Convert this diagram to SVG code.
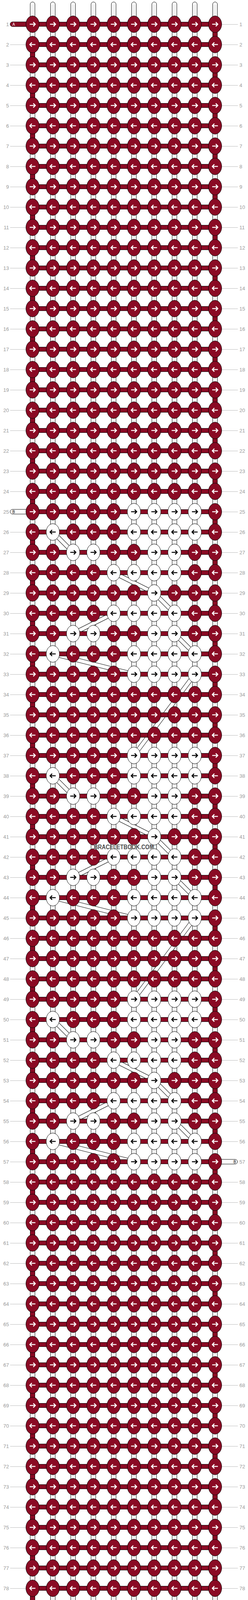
<svg xmlns="http://www.w3.org/2000/svg" xmlns:xlink="http://www.w3.org/1999/xlink" width="636" height="4284" viewBox="0 0 636 4284">
<defs>
<style>
.kr{fill:#8a0a24;stroke:#000;stroke-width:1}
.kw{fill:#fff;stroke:#000;stroke-width:1}
.aw{fill:none;stroke:#fff;stroke-width:2.6}
.ab{fill:none;stroke:#000;stroke-width:2.6}
.ln text,.rn text{font-family:"Liberation Sans",Arial,sans-serif;font-size:13px;fill:#9a9a9a}
.ln text{text-anchor:end}
.vs{fill:#fff;stroke:#000;stroke-width:1}
.lab{font-family:"Liberation Sans",Arial,sans-serif;font-size:10px;text-anchor:middle}
</style>
<g id="a"><ellipse rx="17" ry="21.3" class="kr"/><path d="M-7.3 0H6M1.8-5.3L7 0L1.8 5.3" class="aw"/></g>
<g id="b"><ellipse rx="17" ry="21.3" class="kr"/><path d="M7.3 0H-6M-1.8-5.3L-7 0L-1.8 5.3" class="aw"/></g>
<g id="c"><ellipse rx="17" ry="21.3" class="kw"/><path d="M-7.3 0H6M1.8-5.3L7 0L1.8 5.3" class="ab"/></g>
<g id="d"><ellipse rx="17" ry="21.3" class="kw"/><path d="M7.3 0H-6M-1.8-5.3L-7 0L-1.8 5.3" class="ab"/></g>
<pattern id="gl" width="1000" height="52" patternUnits="userSpaceOnUse"><rect y="10" width="1000" height="1" fill="#bbb"/></pattern>
<pattern id="p10" width="1000" height="104" patternUnits="userSpaceOnUse"><rect width="1000" height="52" fill="#8a0a24"/></pattern>
<pattern id="p1" width="1000" height="104" patternUnits="userSpaceOnUse"><rect y="52" width="1000" height="52" fill="#8a0a24"/></pattern>
<pattern id="hb" width="1000" height="52" y="-6" patternUnits="userSpaceOnUse"><rect y="0.5" width="1000" height="11" fill="#8a0a24" stroke="#000"/></pattern>
<path id="bp" d="M52 1300L104 1352M208 1404L312 1456L364 1508M208 1508L104 1560M364 1560L416 1612M52 1612L260 1664M416 1664L260 1872M52 1924L104 1976M208 2028L312 2080L364 2132M208 2132L104 2184M364 2184L416 2236M52 2236L260 2288M416 2288L260 2496M52 2548L104 2600M208 2652L312 2704L364 2756M208 2756L104 2808M364 2808L416 2860M52 2860L260 2912"/>
</defs>
<rect width="636" height="4284" fill="#fff"/>
<g id="guides">
<rect x="26" y="56" width="60" height="4172" fill="url(#gl)"/>
<rect x="550" y="56" width="60" height="4172" fill="url(#gl)"/>
</g>
<g class="ln">
<text x="23" y="66.5">1</text><text x="23" y="118.5">2</text><text x="23" y="170.5">3</text><text x="23" y="222.5">4</text><text x="23" y="274.5">5</text><text x="23" y="326.5">6</text><text x="23" y="378.5">7</text><text x="23" y="430.5">8</text><text x="23" y="482.5">9</text><text x="23" y="534.5">10</text><text x="23" y="586.5">11</text><text x="23" y="638.5">12</text><text x="23" y="690.5">13</text><text x="23" y="742.5">14</text><text x="23" y="794.5">15</text><text x="23" y="846.5">16</text><text x="23" y="898.5">17</text><text x="23" y="950.5">18</text><text x="23" y="1002.5">19</text><text x="23" y="1054.5">20</text><text x="23" y="1106.5">21</text><text x="23" y="1158.5">22</text><text x="23" y="1210.5">23</text><text x="23" y="1262.5">24</text><text x="23" y="1314.5">25</text><text x="23" y="1366.5">26</text><text x="23" y="1418.5">27</text><text x="23" y="1470.5">28</text><text x="23" y="1522.5">29</text><text x="23" y="1574.5">30</text><text x="23" y="1626.5">31</text><text x="23" y="1678.5">32</text><text x="23" y="1730.5">33</text><text x="23" y="1782.5">34</text><text x="23" y="1834.5">35</text><text x="23" y="1886.5">36</text><text x="23" y="1938.5">37</text><text x="23" y="1990.5">38</text><text x="23" y="2042.5">39</text><text x="23" y="2094.5">40</text><text x="23" y="2146.5">41</text><text x="23" y="2198.5">42</text><text x="23" y="2250.5">43</text><text x="23" y="2302.5">44</text><text x="23" y="2354.5">45</text><text x="23" y="2406.5">46</text><text x="23" y="2458.5">47</text><text x="23" y="2510.5">48</text><text x="23" y="2562.5">49</text><text x="23" y="2614.5">50</text><text x="23" y="2666.5">51</text><text x="23" y="2718.5">52</text><text x="23" y="2770.5">53</text><text x="23" y="2822.5">54</text><text x="23" y="2874.5">55</text><text x="23" y="2926.5">56</text><text x="23" y="2978.5">57</text><text x="23" y="3030.5">58</text><text x="23" y="3082.5">59</text><text x="23" y="3134.5">60</text><text x="23" y="3186.5">61</text><text x="23" y="3238.5">62</text><text x="23" y="3290.5">63</text><text x="23" y="3342.5">64</text><text x="23" y="3394.5">65</text><text x="23" y="3446.5">66</text><text x="23" y="3498.5">67</text><text x="23" y="3550.5">68</text><text x="23" y="3602.5">69</text><text x="23" y="3654.5">70</text><text x="23" y="3706.5">71</text><text x="23" y="3758.5">72</text><text x="23" y="3810.5">73</text><text x="23" y="3862.5">74</text><text x="23" y="3914.5">75</text><text x="23" y="3966.5">76</text><text x="23" y="4018.5">77</text><text x="23" y="4070.5">78</text><text x="23" y="4122.5">79</text><text x="23" y="4174.5">80</text><text x="23" y="4226.5">81</text>
</g>
<g class="rn">
<text x="614" y="66.5">1</text><text x="614" y="118.5">2</text><text x="614" y="170.5">3</text><text x="614" y="222.5">4</text><text x="614" y="274.5">5</text><text x="614" y="326.5">6</text><text x="614" y="378.5">7</text><text x="614" y="430.5">8</text><text x="614" y="482.5">9</text><text x="614" y="534.5">10</text><text x="614" y="586.5">11</text><text x="614" y="638.5">12</text><text x="614" y="690.5">13</text><text x="614" y="742.5">14</text><text x="614" y="794.5">15</text><text x="614" y="846.5">16</text><text x="614" y="898.5">17</text><text x="614" y="950.5">18</text><text x="614" y="1002.5">19</text><text x="614" y="1054.5">20</text><text x="614" y="1106.5">21</text><text x="614" y="1158.5">22</text><text x="614" y="1210.5">23</text><text x="614" y="1262.5">24</text><text x="614" y="1314.5">25</text><text x="614" y="1366.5">26</text><text x="614" y="1418.5">27</text><text x="614" y="1470.5">28</text><text x="614" y="1522.5">29</text><text x="614" y="1574.5">30</text><text x="614" y="1626.5">31</text><text x="614" y="1678.5">32</text><text x="614" y="1730.5">33</text><text x="614" y="1782.5">34</text><text x="614" y="1834.5">35</text><text x="614" y="1886.5">36</text><text x="614" y="1938.5">37</text><text x="614" y="1990.5">38</text><text x="614" y="2042.5">39</text><text x="614" y="2094.5">40</text><text x="614" y="2146.5">41</text><text x="614" y="2198.5">42</text><text x="614" y="2250.5">43</text><text x="614" y="2302.5">44</text><text x="614" y="2354.5">45</text><text x="614" y="2406.5">46</text><text x="614" y="2458.5">47</text><text x="614" y="2510.5">48</text><text x="614" y="2562.5">49</text><text x="614" y="2614.5">50</text><text x="614" y="2666.5">51</text><text x="614" y="2718.5">52</text><text x="614" y="2770.5">53</text><text x="614" y="2822.5">54</text><text x="614" y="2874.5">55</text><text x="614" y="2926.5">56</text><text x="614" y="2978.5">57</text><text x="614" y="3030.5">58</text><text x="614" y="3082.5">59</text><text x="614" y="3134.5">60</text><text x="614" y="3186.5">61</text><text x="614" y="3238.5">62</text><text x="614" y="3290.5">63</text><text x="614" y="3342.5">64</text><text x="614" y="3394.5">65</text><text x="614" y="3446.5">66</text><text x="614" y="3498.5">67</text><text x="614" y="3550.5">68</text><text x="614" y="3602.5">69</text><text x="614" y="3654.5">70</text><text x="614" y="3706.5">71</text><text x="614" y="3758.5">72</text><text x="614" y="3810.5">73</text><text x="614" y="3862.5">74</text><text x="614" y="3914.5">75</text><text x="614" y="3966.5">76</text><text x="614" y="4018.5">77</text><text x="614" y="4070.5">78</text><text x="614" y="4122.5">79</text><text x="614" y="4174.5">80</text><text x="614" y="4226.5">81</text>
</g>
<g id="ends">
<rect x="26" y="56" width="64" height="12" rx="6" fill="#8a0a24" stroke="#000"/>
<text x="35" y="66" class="lab" fill="#fff">A</text>
<rect x="26" y="1304" width="64" height="12" rx="6" fill="#fff" stroke="#000"/>
<text x="35" y="1314" class="lab" fill="#000">B</text>
<rect x="545" y="2968" width="64" height="12" rx="6" fill="#fff" stroke="#000"/>
<text x="602" y="2978" class="lab" fill="#000">B</text>
<rect x="545" y="4216" width="64" height="12" rx="6" fill="#8a0a24" stroke="#000"/>
<text x="602" y="4226" class="lab" fill="#fff">A</text>
</g>
<g id="grid" transform="translate(83.5,62)">
<g id="connectors">
<g id="strands">
<rect x="-6" y="-57" width="12" height="4274" rx="6" class="vs"/><rect x="46" y="-57" width="12" height="4274" rx="6" class="vs"/><rect x="98" y="-57" width="12" height="4274" rx="6" class="vs"/><rect x="150" y="-57" width="12" height="4274" rx="6" class="vs"/><rect x="202" y="-57" width="12" height="4274" rx="6" class="vs"/><rect x="254" y="-57" width="12" height="4274" rx="6" class="vs"/><rect x="306" y="-57" width="12" height="4274" rx="6" class="vs"/><rect x="358" y="-57" width="12" height="4274" rx="6" class="vs"/><rect x="410" y="-57" width="12" height="4274" rx="6" class="vs"/><rect x="462" y="-57" width="12" height="4274" rx="6" class="vs"/>
<path d="M-2-50V4210M2-50V4210M50-50V4210M54-50V4210M102-50V4210M106-50V4210M154-50V4210M158-50V4210M206-50V4210M210-50V4210M258-50V4210M262-50V4210M310-50V4210M314-50V4210M362-50V4210M366-50V4210M414-50V4210M418-50V4210M466-50V4210M470-50V4210" stroke="#c8c8c8" stroke-width="1" fill="none"/>
<rect x="462" y="0" width="12" height="4160" fill="url(#p10)" stroke="#000"/>
<rect x="-6" y="0" width="12" height="4160" fill="url(#p1)" stroke="#000"/>
</g>
<g id="bthread" fill="none" stroke-linejoin="round">
<use href="#bp" stroke="#000" stroke-width="11"/>
<use href="#bp" stroke="#fff" stroke-width="9"/>
</g>
<rect id="bars" x="0" y="-6" width="468" height="4172" fill="url(#hb)"/>
</g>
<g id="knots">
<g id="r1"><g id="n1-1"><use href="#a"/></g><g id="n1-2"><use href="#a" x="52"/></g><g id="n1-3"><use href="#a" x="104"/></g><g id="n1-4"><use href="#a" x="156"/></g><g id="n1-5"><use href="#a" x="208"/></g><g id="n1-6"><use href="#a" x="260"/></g><g id="n1-7"><use href="#a" x="312"/></g><g id="n1-8"><use href="#a" x="364"/></g><g id="n1-9"><use href="#a" x="416"/></g><g id="n1-10"><use href="#a" x="468"/></g></g>
<g id="r2" transform="translate(0,52)"><g id="n2-1"><use href="#b"/></g><g id="n2-2"><use href="#b" x="52"/></g><g id="n2-3"><use href="#b" x="104"/></g><g id="n2-4"><use href="#b" x="156"/></g><g id="n2-5"><use href="#b" x="208"/></g><g id="n2-6"><use href="#b" x="260"/></g><g id="n2-7"><use href="#b" x="312"/></g><g id="n2-8"><use href="#b" x="364"/></g><g id="n2-9"><use href="#b" x="416"/></g><g id="n2-10"><use href="#b" x="468"/></g></g>
<g id="r3" transform="translate(0,104)"><g id="n3-1"><use href="#a"/></g><g id="n3-2"><use href="#a" x="52"/></g><g id="n3-3"><use href="#a" x="104"/></g><g id="n3-4"><use href="#a" x="156"/></g><g id="n3-5"><use href="#a" x="208"/></g><g id="n3-6"><use href="#a" x="260"/></g><g id="n3-7"><use href="#a" x="312"/></g><g id="n3-8"><use href="#a" x="364"/></g><g id="n3-9"><use href="#a" x="416"/></g><g id="n3-10"><use href="#a" x="468"/></g></g>
<g id="r4" transform="translate(0,156)"><g id="n4-1"><use href="#b"/></g><g id="n4-2"><use href="#b" x="52"/></g><g id="n4-3"><use href="#b" x="104"/></g><g id="n4-4"><use href="#b" x="156"/></g><g id="n4-5"><use href="#b" x="208"/></g><g id="n4-6"><use href="#b" x="260"/></g><g id="n4-7"><use href="#b" x="312"/></g><g id="n4-8"><use href="#b" x="364"/></g><g id="n4-9"><use href="#b" x="416"/></g><g id="n4-10"><use href="#b" x="468"/></g></g>
<g id="r5" transform="translate(0,208)"><g id="n5-1"><use href="#a"/></g><g id="n5-2"><use href="#a" x="52"/></g><g id="n5-3"><use href="#a" x="104"/></g><g id="n5-4"><use href="#a" x="156"/></g><g id="n5-5"><use href="#a" x="208"/></g><g id="n5-6"><use href="#a" x="260"/></g><g id="n5-7"><use href="#a" x="312"/></g><g id="n5-8"><use href="#a" x="364"/></g><g id="n5-9"><use href="#a" x="416"/></g><g id="n5-10"><use href="#a" x="468"/></g></g>
<g id="r6" transform="translate(0,260)"><g id="n6-1"><use href="#b"/></g><g id="n6-2"><use href="#b" x="52"/></g><g id="n6-3"><use href="#b" x="104"/></g><g id="n6-4"><use href="#b" x="156"/></g><g id="n6-5"><use href="#b" x="208"/></g><g id="n6-6"><use href="#b" x="260"/></g><g id="n6-7"><use href="#b" x="312"/></g><g id="n6-8"><use href="#b" x="364"/></g><g id="n6-9"><use href="#b" x="416"/></g><g id="n6-10"><use href="#b" x="468"/></g></g>
<g id="r7" transform="translate(0,312)"><g id="n7-1"><use href="#a"/></g><g id="n7-2"><use href="#a" x="52"/></g><g id="n7-3"><use href="#a" x="104"/></g><g id="n7-4"><use href="#a" x="156"/></g><g id="n7-5"><use href="#a" x="208"/></g><g id="n7-6"><use href="#a" x="260"/></g><g id="n7-7"><use href="#a" x="312"/></g><g id="n7-8"><use href="#a" x="364"/></g><g id="n7-9"><use href="#a" x="416"/></g><g id="n7-10"><use href="#a" x="468"/></g></g>
<g id="r8" transform="translate(0,364)"><g id="n8-1"><use href="#b"/></g><g id="n8-2"><use href="#b" x="52"/></g><g id="n8-3"><use href="#b" x="104"/></g><g id="n8-4"><use href="#b" x="156"/></g><g id="n8-5"><use href="#b" x="208"/></g><g id="n8-6"><use href="#b" x="260"/></g><g id="n8-7"><use href="#b" x="312"/></g><g id="n8-8"><use href="#b" x="364"/></g><g id="n8-9"><use href="#b" x="416"/></g><g id="n8-10"><use href="#b" x="468"/></g></g>
<g id="r9" transform="translate(0,416)"><g id="n9-1"><use href="#a"/></g><g id="n9-2"><use href="#a" x="52"/></g><g id="n9-3"><use href="#a" x="104"/></g><g id="n9-4"><use href="#a" x="156"/></g><g id="n9-5"><use href="#a" x="208"/></g><g id="n9-6"><use href="#a" x="260"/></g><g id="n9-7"><use href="#a" x="312"/></g><g id="n9-8"><use href="#a" x="364"/></g><g id="n9-9"><use href="#a" x="416"/></g><g id="n9-10"><use href="#a" x="468"/></g></g>
<g id="r10" transform="translate(0,468)"><g id="n10-1"><use href="#b"/></g><g id="n10-2"><use href="#b" x="52"/></g><g id="n10-3"><use href="#b" x="104"/></g><g id="n10-4"><use href="#b" x="156"/></g><g id="n10-5"><use href="#b" x="208"/></g><g id="n10-6"><use href="#b" x="260"/></g><g id="n10-7"><use href="#b" x="312"/></g><g id="n10-8"><use href="#b" x="364"/></g><g id="n10-9"><use href="#b" x="416"/></g><g id="n10-10"><use href="#b" x="468"/></g></g>
<g id="r11" transform="translate(0,520)"><g id="n11-1"><use href="#a"/></g><g id="n11-2"><use href="#a" x="52"/></g><g id="n11-3"><use href="#a" x="104"/></g><g id="n11-4"><use href="#a" x="156"/></g><g id="n11-5"><use href="#a" x="208"/></g><g id="n11-6"><use href="#a" x="260"/></g><g id="n11-7"><use href="#a" x="312"/></g><g id="n11-8"><use href="#a" x="364"/></g><g id="n11-9"><use href="#a" x="416"/></g><g id="n11-10"><use href="#a" x="468"/></g></g>
<g id="r12" transform="translate(0,572)"><g id="n12-1"><use href="#b"/></g><g id="n12-2"><use href="#b" x="52"/></g><g id="n12-3"><use href="#b" x="104"/></g><g id="n12-4"><use href="#b" x="156"/></g><g id="n12-5"><use href="#b" x="208"/></g><g id="n12-6"><use href="#b" x="260"/></g><g id="n12-7"><use href="#b" x="312"/></g><g id="n12-8"><use href="#b" x="364"/></g><g id="n12-9"><use href="#b" x="416"/></g><g id="n12-10"><use href="#b" x="468"/></g></g>
<g id="r13" transform="translate(0,624)"><g id="n13-1"><use href="#a"/></g><g id="n13-2"><use href="#a" x="52"/></g><g id="n13-3"><use href="#a" x="104"/></g><g id="n13-4"><use href="#a" x="156"/></g><g id="n13-5"><use href="#a" x="208"/></g><g id="n13-6"><use href="#a" x="260"/></g><g id="n13-7"><use href="#a" x="312"/></g><g id="n13-8"><use href="#a" x="364"/></g><g id="n13-9"><use href="#a" x="416"/></g><g id="n13-10"><use href="#a" x="468"/></g></g>
<g id="r14" transform="translate(0,676)"><g id="n14-1"><use href="#b"/></g><g id="n14-2"><use href="#b" x="52"/></g><g id="n14-3"><use href="#b" x="104"/></g><g id="n14-4"><use href="#b" x="156"/></g><g id="n14-5"><use href="#b" x="208"/></g><g id="n14-6"><use href="#b" x="260"/></g><g id="n14-7"><use href="#b" x="312"/></g><g id="n14-8"><use href="#b" x="364"/></g><g id="n14-9"><use href="#b" x="416"/></g><g id="n14-10"><use href="#b" x="468"/></g></g>
<g id="r15" transform="translate(0,728)"><g id="n15-1"><use href="#a"/></g><g id="n15-2"><use href="#a" x="52"/></g><g id="n15-3"><use href="#a" x="104"/></g><g id="n15-4"><use href="#a" x="156"/></g><g id="n15-5"><use href="#a" x="208"/></g><g id="n15-6"><use href="#a" x="260"/></g><g id="n15-7"><use href="#a" x="312"/></g><g id="n15-8"><use href="#a" x="364"/></g><g id="n15-9"><use href="#a" x="416"/></g><g id="n15-10"><use href="#a" x="468"/></g></g>
<g id="r16" transform="translate(0,780)"><g id="n16-1"><use href="#b"/></g><g id="n16-2"><use href="#b" x="52"/></g><g id="n16-3"><use href="#b" x="104"/></g><g id="n16-4"><use href="#b" x="156"/></g><g id="n16-5"><use href="#b" x="208"/></g><g id="n16-6"><use href="#b" x="260"/></g><g id="n16-7"><use href="#b" x="312"/></g><g id="n16-8"><use href="#b" x="364"/></g><g id="n16-9"><use href="#b" x="416"/></g><g id="n16-10"><use href="#b" x="468"/></g></g>
<g id="r17" transform="translate(0,832)"><g id="n17-1"><use href="#a"/></g><g id="n17-2"><use href="#a" x="52"/></g><g id="n17-3"><use href="#a" x="104"/></g><g id="n17-4"><use href="#a" x="156"/></g><g id="n17-5"><use href="#a" x="208"/></g><g id="n17-6"><use href="#a" x="260"/></g><g id="n17-7"><use href="#a" x="312"/></g><g id="n17-8"><use href="#a" x="364"/></g><g id="n17-9"><use href="#a" x="416"/></g><g id="n17-10"><use href="#a" x="468"/></g></g>
<g id="r18" transform="translate(0,884)"><g id="n18-1"><use href="#b"/></g><g id="n18-2"><use href="#b" x="52"/></g><g id="n18-3"><use href="#b" x="104"/></g><g id="n18-4"><use href="#b" x="156"/></g><g id="n18-5"><use href="#b" x="208"/></g><g id="n18-6"><use href="#b" x="260"/></g><g id="n18-7"><use href="#b" x="312"/></g><g id="n18-8"><use href="#b" x="364"/></g><g id="n18-9"><use href="#b" x="416"/></g><g id="n18-10"><use href="#b" x="468"/></g></g>
<g id="r19" transform="translate(0,936)"><g id="n19-1"><use href="#a"/></g><g id="n19-2"><use href="#a" x="52"/></g><g id="n19-3"><use href="#a" x="104"/></g><g id="n19-4"><use href="#a" x="156"/></g><g id="n19-5"><use href="#a" x="208"/></g><g id="n19-6"><use href="#a" x="260"/></g><g id="n19-7"><use href="#a" x="312"/></g><g id="n19-8"><use href="#a" x="364"/></g><g id="n19-9"><use href="#a" x="416"/></g><g id="n19-10"><use href="#a" x="468"/></g></g>
<g id="r20" transform="translate(0,988)"><g id="n20-1"><use href="#b"/></g><g id="n20-2"><use href="#b" x="52"/></g><g id="n20-3"><use href="#b" x="104"/></g><g id="n20-4"><use href="#b" x="156"/></g><g id="n20-5"><use href="#b" x="208"/></g><g id="n20-6"><use href="#b" x="260"/></g><g id="n20-7"><use href="#b" x="312"/></g><g id="n20-8"><use href="#b" x="364"/></g><g id="n20-9"><use href="#b" x="416"/></g><g id="n20-10"><use href="#b" x="468"/></g></g>
<g id="r21" transform="translate(0,1040)"><g id="n21-1"><use href="#a"/></g><g id="n21-2"><use href="#a" x="52"/></g><g id="n21-3"><use href="#a" x="104"/></g><g id="n21-4"><use href="#a" x="156"/></g><g id="n21-5"><use href="#a" x="208"/></g><g id="n21-6"><use href="#a" x="260"/></g><g id="n21-7"><use href="#a" x="312"/></g><g id="n21-8"><use href="#a" x="364"/></g><g id="n21-9"><use href="#a" x="416"/></g><g id="n21-10"><use href="#a" x="468"/></g></g>
<g id="r22" transform="translate(0,1092)"><g id="n22-1"><use href="#b"/></g><g id="n22-2"><use href="#b" x="52"/></g><g id="n22-3"><use href="#b" x="104"/></g><g id="n22-4"><use href="#b" x="156"/></g><g id="n22-5"><use href="#b" x="208"/></g><g id="n22-6"><use href="#b" x="260"/></g><g id="n22-7"><use href="#b" x="312"/></g><g id="n22-8"><use href="#b" x="364"/></g><g id="n22-9"><use href="#b" x="416"/></g><g id="n22-10"><use href="#b" x="468"/></g></g>
<g id="r23" transform="translate(0,1144)"><g id="n23-1"><use href="#a"/></g><g id="n23-2"><use href="#a" x="52"/></g><g id="n23-3"><use href="#a" x="104"/></g><g id="n23-4"><use href="#a" x="156"/></g><g id="n23-5"><use href="#a" x="208"/></g><g id="n23-6"><use href="#a" x="260"/></g><g id="n23-7"><use href="#a" x="312"/></g><g id="n23-8"><use href="#a" x="364"/></g><g id="n23-9"><use href="#a" x="416"/></g><g id="n23-10"><use href="#a" x="468"/></g></g>
<g id="r24" transform="translate(0,1196)"><g id="n24-1"><use href="#b"/></g><g id="n24-2"><use href="#b" x="52"/></g><g id="n24-3"><use href="#b" x="104"/></g><g id="n24-4"><use href="#b" x="156"/></g><g id="n24-5"><use href="#b" x="208"/></g><g id="n24-6"><use href="#b" x="260"/></g><g id="n24-7"><use href="#b" x="312"/></g><g id="n24-8"><use href="#b" x="364"/></g><g id="n24-9"><use href="#b" x="416"/></g><g id="n24-10"><use href="#b" x="468"/></g></g>
<g id="r25" transform="translate(0,1248)"><g id="n25-1"><use href="#a"/></g><g id="n25-2"><use href="#a" x="52"/></g><g id="n25-3"><use href="#a" x="104"/></g><g id="n25-4"><use href="#a" x="156"/></g><g id="n25-5"><use href="#a" x="208"/></g><g id="n25-6"><use href="#c" x="260"/></g><g id="n25-7"><use href="#c" x="312"/></g><g id="n25-8"><use href="#c" x="364"/></g><g id="n25-9"><use href="#c" x="416"/></g><g id="n25-10"><use href="#a" x="468"/></g></g>
<g id="r26" transform="translate(0,1300)"><g id="n26-1"><use href="#b"/></g><g id="n26-2"><use href="#d" x="52"/></g><g id="n26-3"><use href="#b" x="104"/></g><g id="n26-4"><use href="#b" x="156"/></g><g id="n26-5"><use href="#b" x="208"/></g><g id="n26-6"><use href="#d" x="260"/></g><g id="n26-7"><use href="#d" x="312"/></g><g id="n26-8"><use href="#d" x="364"/></g><g id="n26-9"><use href="#d" x="416"/></g><g id="n26-10"><use href="#b" x="468"/></g></g>
<g id="r27" transform="translate(0,1352)"><g id="n27-1"><use href="#a"/></g><g id="n27-2"><use href="#a" x="52"/></g><g id="n27-3"><use href="#c" x="104"/></g><g id="n27-4"><use href="#c" x="156"/></g><g id="n27-5"><use href="#a" x="208"/></g><g id="n27-6"><use href="#a" x="260"/></g><g id="n27-7"><use href="#c" x="312"/></g><g id="n27-8"><use href="#c" x="364"/></g><g id="n27-9"><use href="#a" x="416"/></g><g id="n27-10"><use href="#a" x="468"/></g></g>
<g id="r28" transform="translate(0,1404)"><g id="n28-1"><use href="#b"/></g><g id="n28-2"><use href="#b" x="52"/></g><g id="n28-3"><use href="#b" x="104"/></g><g id="n28-4"><use href="#b" x="156"/></g><g id="n28-5"><use href="#d" x="208"/></g><g id="n28-6"><use href="#d" x="260"/></g><g id="n28-7"><use href="#d" x="312"/></g><g id="n28-8"><use href="#d" x="364"/></g><g id="n28-9"><use href="#b" x="416"/></g><g id="n28-10"><use href="#b" x="468"/></g></g>
<g id="r29" transform="translate(0,1456)"><g id="n29-1"><use href="#a"/></g><g id="n29-2"><use href="#a" x="52"/></g><g id="n29-3"><use href="#a" x="104"/></g><g id="n29-4"><use href="#a" x="156"/></g><g id="n29-5"><use href="#a" x="208"/></g><g id="n29-6"><use href="#a" x="260"/></g><g id="n29-7"><use href="#c" x="312"/></g><g id="n29-8"><use href="#a" x="364"/></g><g id="n29-9"><use href="#a" x="416"/></g><g id="n29-10"><use href="#a" x="468"/></g></g>
<g id="r30" transform="translate(0,1508)"><g id="n30-1"><use href="#b"/></g><g id="n30-2"><use href="#b" x="52"/></g><g id="n30-3"><use href="#b" x="104"/></g><g id="n30-4"><use href="#b" x="156"/></g><g id="n30-5"><use href="#d" x="208"/></g><g id="n30-6"><use href="#d" x="260"/></g><g id="n30-7"><use href="#d" x="312"/></g><g id="n30-8"><use href="#d" x="364"/></g><g id="n30-9"><use href="#b" x="416"/></g><g id="n30-10"><use href="#b" x="468"/></g></g>
<g id="r31" transform="translate(0,1560)"><g id="n31-1"><use href="#a"/></g><g id="n31-2"><use href="#a" x="52"/></g><g id="n31-3"><use href="#c" x="104"/></g><g id="n31-4"><use href="#c" x="156"/></g><g id="n31-5"><use href="#a" x="208"/></g><g id="n31-6"><use href="#a" x="260"/></g><g id="n31-7"><use href="#c" x="312"/></g><g id="n31-8"><use href="#c" x="364"/></g><g id="n31-9"><use href="#a" x="416"/></g><g id="n31-10"><use href="#a" x="468"/></g></g>
<g id="r32" transform="translate(0,1612)"><g id="n32-1"><use href="#b"/></g><g id="n32-2"><use href="#d" x="52"/></g><g id="n32-3"><use href="#b" x="104"/></g><g id="n32-4"><use href="#b" x="156"/></g><g id="n32-5"><use href="#b" x="208"/></g><g id="n32-6"><use href="#d" x="260"/></g><g id="n32-7"><use href="#d" x="312"/></g><g id="n32-8"><use href="#d" x="364"/></g><g id="n32-9"><use href="#d" x="416"/></g><g id="n32-10"><use href="#b" x="468"/></g></g>
<g id="r33" transform="translate(0,1664)"><g id="n33-1"><use href="#a"/></g><g id="n33-2"><use href="#a" x="52"/></g><g id="n33-3"><use href="#a" x="104"/></g><g id="n33-4"><use href="#a" x="156"/></g><g id="n33-5"><use href="#a" x="208"/></g><g id="n33-6"><use href="#c" x="260"/></g><g id="n33-7"><use href="#c" x="312"/></g><g id="n33-8"><use href="#c" x="364"/></g><g id="n33-9"><use href="#c" x="416"/></g><g id="n33-10"><use href="#a" x="468"/></g></g>
<g id="r34" transform="translate(0,1716)"><g id="n34-1"><use href="#b"/></g><g id="n34-2"><use href="#b" x="52"/></g><g id="n34-3"><use href="#b" x="104"/></g><g id="n34-4"><use href="#b" x="156"/></g><g id="n34-5"><use href="#b" x="208"/></g><g id="n34-6"><use href="#b" x="260"/></g><g id="n34-7"><use href="#b" x="312"/></g><g id="n34-8"><use href="#b" x="364"/></g><g id="n34-9"><use href="#b" x="416"/></g><g id="n34-10"><use href="#b" x="468"/></g></g>
<g id="r35" transform="translate(0,1768)"><g id="n35-1"><use href="#a"/></g><g id="n35-2"><use href="#a" x="52"/></g><g id="n35-3"><use href="#a" x="104"/></g><g id="n35-4"><use href="#a" x="156"/></g><g id="n35-5"><use href="#a" x="208"/></g><g id="n35-6"><use href="#a" x="260"/></g><g id="n35-7"><use href="#a" x="312"/></g><g id="n35-8"><use href="#a" x="364"/></g><g id="n35-9"><use href="#a" x="416"/></g><g id="n35-10"><use href="#a" x="468"/></g></g>
<g id="r36" transform="translate(0,1820)"><g id="n36-1"><use href="#b"/></g><g id="n36-2"><use href="#b" x="52"/></g><g id="n36-3"><use href="#b" x="104"/></g><g id="n36-4"><use href="#b" x="156"/></g><g id="n36-5"><use href="#b" x="208"/></g><g id="n36-6"><use href="#b" x="260"/></g><g id="n36-7"><use href="#b" x="312"/></g><g id="n36-8"><use href="#b" x="364"/></g><g id="n36-9"><use href="#b" x="416"/></g><g id="n36-10"><use href="#b" x="468"/></g></g>
<g id="r37" transform="translate(0,1872)"><g id="n37-1"><use href="#a"/></g><g id="n37-2"><use href="#a" x="52"/></g><g id="n37-3"><use href="#a" x="104"/></g><g id="n37-4"><use href="#a" x="156"/></g><g id="n37-5"><use href="#a" x="208"/></g><g id="n37-6"><use href="#c" x="260"/></g><g id="n37-7"><use href="#c" x="312"/></g><g id="n37-8"><use href="#c" x="364"/></g><g id="n37-9"><use href="#c" x="416"/></g><g id="n37-10"><use href="#a" x="468"/></g></g>
<g id="r38" transform="translate(0,1924)"><g id="n38-1"><use href="#b"/></g><g id="n38-2"><use href="#d" x="52"/></g><g id="n38-3"><use href="#b" x="104"/></g><g id="n38-4"><use href="#b" x="156"/></g><g id="n38-5"><use href="#b" x="208"/></g><g id="n38-6"><use href="#d" x="260"/></g><g id="n38-7"><use href="#d" x="312"/></g><g id="n38-8"><use href="#d" x="364"/></g><g id="n38-9"><use href="#d" x="416"/></g><g id="n38-10"><use href="#b" x="468"/></g></g>
<g id="r39" transform="translate(0,1976)"><g id="n39-1"><use href="#a"/></g><g id="n39-2"><use href="#a" x="52"/></g><g id="n39-3"><use href="#c" x="104"/></g><g id="n39-4"><use href="#c" x="156"/></g><g id="n39-5"><use href="#a" x="208"/></g><g id="n39-6"><use href="#a" x="260"/></g><g id="n39-7"><use href="#c" x="312"/></g><g id="n39-8"><use href="#c" x="364"/></g><g id="n39-9"><use href="#a" x="416"/></g><g id="n39-10"><use href="#a" x="468"/></g></g>
<g id="r40" transform="translate(0,2028)"><g id="n40-1"><use href="#b"/></g><g id="n40-2"><use href="#b" x="52"/></g><g id="n40-3"><use href="#b" x="104"/></g><g id="n40-4"><use href="#b" x="156"/></g><g id="n40-5"><use href="#d" x="208"/></g><g id="n40-6"><use href="#d" x="260"/></g><g id="n40-7"><use href="#d" x="312"/></g><g id="n40-8"><use href="#d" x="364"/></g><g id="n40-9"><use href="#b" x="416"/></g><g id="n40-10"><use href="#b" x="468"/></g></g>
<g id="r41" transform="translate(0,2080)"><g id="n41-1"><use href="#a"/></g><g id="n41-2"><use href="#a" x="52"/></g><g id="n41-3"><use href="#a" x="104"/></g><g id="n41-4"><use href="#a" x="156"/></g><g id="n41-5"><use href="#a" x="208"/></g><g id="n41-6"><use href="#a" x="260"/></g><g id="n41-7"><use href="#c" x="312"/></g><g id="n41-8"><use href="#a" x="364"/></g><g id="n41-9"><use href="#a" x="416"/></g><g id="n41-10"><use href="#a" x="468"/></g></g>
<g id="r42" transform="translate(0,2132)"><g id="n42-1"><use href="#b"/></g><g id="n42-2"><use href="#b" x="52"/></g><g id="n42-3"><use href="#b" x="104"/></g><g id="n42-4"><use href="#b" x="156"/></g><g id="n42-5"><use href="#d" x="208"/></g><g id="n42-6"><use href="#d" x="260"/></g><g id="n42-7"><use href="#d" x="312"/></g><g id="n42-8"><use href="#d" x="364"/></g><g id="n42-9"><use href="#b" x="416"/></g><g id="n42-10"><use href="#b" x="468"/></g></g>
<g id="r43" transform="translate(0,2184)"><g id="n43-1"><use href="#a"/></g><g id="n43-2"><use href="#a" x="52"/></g><g id="n43-3"><use href="#c" x="104"/></g><g id="n43-4"><use href="#c" x="156"/></g><g id="n43-5"><use href="#a" x="208"/></g><g id="n43-6"><use href="#a" x="260"/></g><g id="n43-7"><use href="#c" x="312"/></g><g id="n43-8"><use href="#c" x="364"/></g><g id="n43-9"><use href="#a" x="416"/></g><g id="n43-10"><use href="#a" x="468"/></g></g>
<g id="r44" transform="translate(0,2236)"><g id="n44-1"><use href="#b"/></g><g id="n44-2"><use href="#d" x="52"/></g><g id="n44-3"><use href="#b" x="104"/></g><g id="n44-4"><use href="#b" x="156"/></g><g id="n44-5"><use href="#b" x="208"/></g><g id="n44-6"><use href="#d" x="260"/></g><g id="n44-7"><use href="#d" x="312"/></g><g id="n44-8"><use href="#d" x="364"/></g><g id="n44-9"><use href="#d" x="416"/></g><g id="n44-10"><use href="#b" x="468"/></g></g>
<g id="r45" transform="translate(0,2288)"><g id="n45-1"><use href="#a"/></g><g id="n45-2"><use href="#a" x="52"/></g><g id="n45-3"><use href="#a" x="104"/></g><g id="n45-4"><use href="#a" x="156"/></g><g id="n45-5"><use href="#a" x="208"/></g><g id="n45-6"><use href="#c" x="260"/></g><g id="n45-7"><use href="#c" x="312"/></g><g id="n45-8"><use href="#c" x="364"/></g><g id="n45-9"><use href="#c" x="416"/></g><g id="n45-10"><use href="#a" x="468"/></g></g>
<g id="r46" transform="translate(0,2340)"><g id="n46-1"><use href="#b"/></g><g id="n46-2"><use href="#b" x="52"/></g><g id="n46-3"><use href="#b" x="104"/></g><g id="n46-4"><use href="#b" x="156"/></g><g id="n46-5"><use href="#b" x="208"/></g><g id="n46-6"><use href="#b" x="260"/></g><g id="n46-7"><use href="#b" x="312"/></g><g id="n46-8"><use href="#b" x="364"/></g><g id="n46-9"><use href="#b" x="416"/></g><g id="n46-10"><use href="#b" x="468"/></g></g>
<g id="r47" transform="translate(0,2392)"><g id="n47-1"><use href="#a"/></g><g id="n47-2"><use href="#a" x="52"/></g><g id="n47-3"><use href="#a" x="104"/></g><g id="n47-4"><use href="#a" x="156"/></g><g id="n47-5"><use href="#a" x="208"/></g><g id="n47-6"><use href="#a" x="260"/></g><g id="n47-7"><use href="#a" x="312"/></g><g id="n47-8"><use href="#a" x="364"/></g><g id="n47-9"><use href="#a" x="416"/></g><g id="n47-10"><use href="#a" x="468"/></g></g>
<g id="r48" transform="translate(0,2444)"><g id="n48-1"><use href="#b"/></g><g id="n48-2"><use href="#b" x="52"/></g><g id="n48-3"><use href="#b" x="104"/></g><g id="n48-4"><use href="#b" x="156"/></g><g id="n48-5"><use href="#b" x="208"/></g><g id="n48-6"><use href="#b" x="260"/></g><g id="n48-7"><use href="#b" x="312"/></g><g id="n48-8"><use href="#b" x="364"/></g><g id="n48-9"><use href="#b" x="416"/></g><g id="n48-10"><use href="#b" x="468"/></g></g>
<g id="r49" transform="translate(0,2496)"><g id="n49-1"><use href="#a"/></g><g id="n49-2"><use href="#a" x="52"/></g><g id="n49-3"><use href="#a" x="104"/></g><g id="n49-4"><use href="#a" x="156"/></g><g id="n49-5"><use href="#a" x="208"/></g><g id="n49-6"><use href="#c" x="260"/></g><g id="n49-7"><use href="#c" x="312"/></g><g id="n49-8"><use href="#c" x="364"/></g><g id="n49-9"><use href="#c" x="416"/></g><g id="n49-10"><use href="#a" x="468"/></g></g>
<g id="r50" transform="translate(0,2548)"><g id="n50-1"><use href="#b"/></g><g id="n50-2"><use href="#d" x="52"/></g><g id="n50-3"><use href="#b" x="104"/></g><g id="n50-4"><use href="#b" x="156"/></g><g id="n50-5"><use href="#b" x="208"/></g><g id="n50-6"><use href="#d" x="260"/></g><g id="n50-7"><use href="#d" x="312"/></g><g id="n50-8"><use href="#d" x="364"/></g><g id="n50-9"><use href="#d" x="416"/></g><g id="n50-10"><use href="#b" x="468"/></g></g>
<g id="r51" transform="translate(0,2600)"><g id="n51-1"><use href="#a"/></g><g id="n51-2"><use href="#a" x="52"/></g><g id="n51-3"><use href="#c" x="104"/></g><g id="n51-4"><use href="#c" x="156"/></g><g id="n51-5"><use href="#a" x="208"/></g><g id="n51-6"><use href="#a" x="260"/></g><g id="n51-7"><use href="#c" x="312"/></g><g id="n51-8"><use href="#c" x="364"/></g><g id="n51-9"><use href="#a" x="416"/></g><g id="n51-10"><use href="#a" x="468"/></g></g>
<g id="r52" transform="translate(0,2652)"><g id="n52-1"><use href="#b"/></g><g id="n52-2"><use href="#b" x="52"/></g><g id="n52-3"><use href="#b" x="104"/></g><g id="n52-4"><use href="#b" x="156"/></g><g id="n52-5"><use href="#d" x="208"/></g><g id="n52-6"><use href="#d" x="260"/></g><g id="n52-7"><use href="#d" x="312"/></g><g id="n52-8"><use href="#d" x="364"/></g><g id="n52-9"><use href="#b" x="416"/></g><g id="n52-10"><use href="#b" x="468"/></g></g>
<g id="r53" transform="translate(0,2704)"><g id="n53-1"><use href="#a"/></g><g id="n53-2"><use href="#a" x="52"/></g><g id="n53-3"><use href="#a" x="104"/></g><g id="n53-4"><use href="#a" x="156"/></g><g id="n53-5"><use href="#a" x="208"/></g><g id="n53-6"><use href="#a" x="260"/></g><g id="n53-7"><use href="#c" x="312"/></g><g id="n53-8"><use href="#a" x="364"/></g><g id="n53-9"><use href="#a" x="416"/></g><g id="n53-10"><use href="#a" x="468"/></g></g>
<g id="r54" transform="translate(0,2756)"><g id="n54-1"><use href="#b"/></g><g id="n54-2"><use href="#b" x="52"/></g><g id="n54-3"><use href="#b" x="104"/></g><g id="n54-4"><use href="#b" x="156"/></g><g id="n54-5"><use href="#d" x="208"/></g><g id="n54-6"><use href="#d" x="260"/></g><g id="n54-7"><use href="#d" x="312"/></g><g id="n54-8"><use href="#d" x="364"/></g><g id="n54-9"><use href="#b" x="416"/></g><g id="n54-10"><use href="#b" x="468"/></g></g>
<g id="r55" transform="translate(0,2808)"><g id="n55-1"><use href="#a"/></g><g id="n55-2"><use href="#a" x="52"/></g><g id="n55-3"><use href="#c" x="104"/></g><g id="n55-4"><use href="#c" x="156"/></g><g id="n55-5"><use href="#a" x="208"/></g><g id="n55-6"><use href="#a" x="260"/></g><g id="n55-7"><use href="#c" x="312"/></g><g id="n55-8"><use href="#c" x="364"/></g><g id="n55-9"><use href="#a" x="416"/></g><g id="n55-10"><use href="#a" x="468"/></g></g>
<g id="r56" transform="translate(0,2860)"><g id="n56-1"><use href="#b"/></g><g id="n56-2"><use href="#d" x="52"/></g><g id="n56-3"><use href="#b" x="104"/></g><g id="n56-4"><use href="#b" x="156"/></g><g id="n56-5"><use href="#b" x="208"/></g><g id="n56-6"><use href="#d" x="260"/></g><g id="n56-7"><use href="#d" x="312"/></g><g id="n56-8"><use href="#d" x="364"/></g><g id="n56-9"><use href="#d" x="416"/></g><g id="n56-10"><use href="#b" x="468"/></g></g>
<g id="r57" transform="translate(0,2912)"><g id="n57-1"><use href="#a"/></g><g id="n57-2"><use href="#a" x="52"/></g><g id="n57-3"><use href="#a" x="104"/></g><g id="n57-4"><use href="#a" x="156"/></g><g id="n57-5"><use href="#a" x="208"/></g><g id="n57-6"><use href="#c" x="260"/></g><g id="n57-7"><use href="#c" x="312"/></g><g id="n57-8"><use href="#c" x="364"/></g><g id="n57-9"><use href="#c" x="416"/></g><g id="n57-10"><use href="#a" x="468"/></g></g>
<g id="r58" transform="translate(0,2964)"><g id="n58-1"><use href="#b"/></g><g id="n58-2"><use href="#b" x="52"/></g><g id="n58-3"><use href="#b" x="104"/></g><g id="n58-4"><use href="#b" x="156"/></g><g id="n58-5"><use href="#b" x="208"/></g><g id="n58-6"><use href="#b" x="260"/></g><g id="n58-7"><use href="#b" x="312"/></g><g id="n58-8"><use href="#b" x="364"/></g><g id="n58-9"><use href="#b" x="416"/></g><g id="n58-10"><use href="#b" x="468"/></g></g>
<g id="r59" transform="translate(0,3016)"><g id="n59-1"><use href="#a"/></g><g id="n59-2"><use href="#a" x="52"/></g><g id="n59-3"><use href="#a" x="104"/></g><g id="n59-4"><use href="#a" x="156"/></g><g id="n59-5"><use href="#a" x="208"/></g><g id="n59-6"><use href="#a" x="260"/></g><g id="n59-7"><use href="#a" x="312"/></g><g id="n59-8"><use href="#a" x="364"/></g><g id="n59-9"><use href="#a" x="416"/></g><g id="n59-10"><use href="#a" x="468"/></g></g>
<g id="r60" transform="translate(0,3068)"><g id="n60-1"><use href="#b"/></g><g id="n60-2"><use href="#b" x="52"/></g><g id="n60-3"><use href="#b" x="104"/></g><g id="n60-4"><use href="#b" x="156"/></g><g id="n60-5"><use href="#b" x="208"/></g><g id="n60-6"><use href="#b" x="260"/></g><g id="n60-7"><use href="#b" x="312"/></g><g id="n60-8"><use href="#b" x="364"/></g><g id="n60-9"><use href="#b" x="416"/></g><g id="n60-10"><use href="#b" x="468"/></g></g>
<g id="r61" transform="translate(0,3120)"><g id="n61-1"><use href="#a"/></g><g id="n61-2"><use href="#a" x="52"/></g><g id="n61-3"><use href="#a" x="104"/></g><g id="n61-4"><use href="#a" x="156"/></g><g id="n61-5"><use href="#a" x="208"/></g><g id="n61-6"><use href="#a" x="260"/></g><g id="n61-7"><use href="#a" x="312"/></g><g id="n61-8"><use href="#a" x="364"/></g><g id="n61-9"><use href="#a" x="416"/></g><g id="n61-10"><use href="#a" x="468"/></g></g>
<g id="r62" transform="translate(0,3172)"><g id="n62-1"><use href="#b"/></g><g id="n62-2"><use href="#b" x="52"/></g><g id="n62-3"><use href="#b" x="104"/></g><g id="n62-4"><use href="#b" x="156"/></g><g id="n62-5"><use href="#b" x="208"/></g><g id="n62-6"><use href="#b" x="260"/></g><g id="n62-7"><use href="#b" x="312"/></g><g id="n62-8"><use href="#b" x="364"/></g><g id="n62-9"><use href="#b" x="416"/></g><g id="n62-10"><use href="#b" x="468"/></g></g>
<g id="r63" transform="translate(0,3224)"><g id="n63-1"><use href="#a"/></g><g id="n63-2"><use href="#a" x="52"/></g><g id="n63-3"><use href="#a" x="104"/></g><g id="n63-4"><use href="#a" x="156"/></g><g id="n63-5"><use href="#a" x="208"/></g><g id="n63-6"><use href="#a" x="260"/></g><g id="n63-7"><use href="#a" x="312"/></g><g id="n63-8"><use href="#a" x="364"/></g><g id="n63-9"><use href="#a" x="416"/></g><g id="n63-10"><use href="#a" x="468"/></g></g>
<g id="r64" transform="translate(0,3276)"><g id="n64-1"><use href="#b"/></g><g id="n64-2"><use href="#b" x="52"/></g><g id="n64-3"><use href="#b" x="104"/></g><g id="n64-4"><use href="#b" x="156"/></g><g id="n64-5"><use href="#b" x="208"/></g><g id="n64-6"><use href="#b" x="260"/></g><g id="n64-7"><use href="#b" x="312"/></g><g id="n64-8"><use href="#b" x="364"/></g><g id="n64-9"><use href="#b" x="416"/></g><g id="n64-10"><use href="#b" x="468"/></g></g>
<g id="r65" transform="translate(0,3328)"><g id="n65-1"><use href="#a"/></g><g id="n65-2"><use href="#a" x="52"/></g><g id="n65-3"><use href="#a" x="104"/></g><g id="n65-4"><use href="#a" x="156"/></g><g id="n65-5"><use href="#a" x="208"/></g><g id="n65-6"><use href="#a" x="260"/></g><g id="n65-7"><use href="#a" x="312"/></g><g id="n65-8"><use href="#a" x="364"/></g><g id="n65-9"><use href="#a" x="416"/></g><g id="n65-10"><use href="#a" x="468"/></g></g>
<g id="r66" transform="translate(0,3380)"><g id="n66-1"><use href="#b"/></g><g id="n66-2"><use href="#b" x="52"/></g><g id="n66-3"><use href="#b" x="104"/></g><g id="n66-4"><use href="#b" x="156"/></g><g id="n66-5"><use href="#b" x="208"/></g><g id="n66-6"><use href="#b" x="260"/></g><g id="n66-7"><use href="#b" x="312"/></g><g id="n66-8"><use href="#b" x="364"/></g><g id="n66-9"><use href="#b" x="416"/></g><g id="n66-10"><use href="#b" x="468"/></g></g>
<g id="r67" transform="translate(0,3432)"><g id="n67-1"><use href="#a"/></g><g id="n67-2"><use href="#a" x="52"/></g><g id="n67-3"><use href="#a" x="104"/></g><g id="n67-4"><use href="#a" x="156"/></g><g id="n67-5"><use href="#a" x="208"/></g><g id="n67-6"><use href="#a" x="260"/></g><g id="n67-7"><use href="#a" x="312"/></g><g id="n67-8"><use href="#a" x="364"/></g><g id="n67-9"><use href="#a" x="416"/></g><g id="n67-10"><use href="#a" x="468"/></g></g>
<g id="r68" transform="translate(0,3484)"><g id="n68-1"><use href="#b"/></g><g id="n68-2"><use href="#b" x="52"/></g><g id="n68-3"><use href="#b" x="104"/></g><g id="n68-4"><use href="#b" x="156"/></g><g id="n68-5"><use href="#b" x="208"/></g><g id="n68-6"><use href="#b" x="260"/></g><g id="n68-7"><use href="#b" x="312"/></g><g id="n68-8"><use href="#b" x="364"/></g><g id="n68-9"><use href="#b" x="416"/></g><g id="n68-10"><use href="#b" x="468"/></g></g>
<g id="r69" transform="translate(0,3536)"><g id="n69-1"><use href="#a"/></g><g id="n69-2"><use href="#a" x="52"/></g><g id="n69-3"><use href="#a" x="104"/></g><g id="n69-4"><use href="#a" x="156"/></g><g id="n69-5"><use href="#a" x="208"/></g><g id="n69-6"><use href="#a" x="260"/></g><g id="n69-7"><use href="#a" x="312"/></g><g id="n69-8"><use href="#a" x="364"/></g><g id="n69-9"><use href="#a" x="416"/></g><g id="n69-10"><use href="#a" x="468"/></g></g>
<g id="r70" transform="translate(0,3588)"><g id="n70-1"><use href="#b"/></g><g id="n70-2"><use href="#b" x="52"/></g><g id="n70-3"><use href="#b" x="104"/></g><g id="n70-4"><use href="#b" x="156"/></g><g id="n70-5"><use href="#b" x="208"/></g><g id="n70-6"><use href="#b" x="260"/></g><g id="n70-7"><use href="#b" x="312"/></g><g id="n70-8"><use href="#b" x="364"/></g><g id="n70-9"><use href="#b" x="416"/></g><g id="n70-10"><use href="#b" x="468"/></g></g>
<g id="r71" transform="translate(0,3640)"><g id="n71-1"><use href="#a"/></g><g id="n71-2"><use href="#a" x="52"/></g><g id="n71-3"><use href="#a" x="104"/></g><g id="n71-4"><use href="#a" x="156"/></g><g id="n71-5"><use href="#a" x="208"/></g><g id="n71-6"><use href="#a" x="260"/></g><g id="n71-7"><use href="#a" x="312"/></g><g id="n71-8"><use href="#a" x="364"/></g><g id="n71-9"><use href="#a" x="416"/></g><g id="n71-10"><use href="#a" x="468"/></g></g>
<g id="r72" transform="translate(0,3692)"><g id="n72-1"><use href="#b"/></g><g id="n72-2"><use href="#b" x="52"/></g><g id="n72-3"><use href="#b" x="104"/></g><g id="n72-4"><use href="#b" x="156"/></g><g id="n72-5"><use href="#b" x="208"/></g><g id="n72-6"><use href="#b" x="260"/></g><g id="n72-7"><use href="#b" x="312"/></g><g id="n72-8"><use href="#b" x="364"/></g><g id="n72-9"><use href="#b" x="416"/></g><g id="n72-10"><use href="#b" x="468"/></g></g>
<g id="r73" transform="translate(0,3744)"><g id="n73-1"><use href="#a"/></g><g id="n73-2"><use href="#a" x="52"/></g><g id="n73-3"><use href="#a" x="104"/></g><g id="n73-4"><use href="#a" x="156"/></g><g id="n73-5"><use href="#a" x="208"/></g><g id="n73-6"><use href="#a" x="260"/></g><g id="n73-7"><use href="#a" x="312"/></g><g id="n73-8"><use href="#a" x="364"/></g><g id="n73-9"><use href="#a" x="416"/></g><g id="n73-10"><use href="#a" x="468"/></g></g>
<g id="r74" transform="translate(0,3796)"><g id="n74-1"><use href="#b"/></g><g id="n74-2"><use href="#b" x="52"/></g><g id="n74-3"><use href="#b" x="104"/></g><g id="n74-4"><use href="#b" x="156"/></g><g id="n74-5"><use href="#b" x="208"/></g><g id="n74-6"><use href="#b" x="260"/></g><g id="n74-7"><use href="#b" x="312"/></g><g id="n74-8"><use href="#b" x="364"/></g><g id="n74-9"><use href="#b" x="416"/></g><g id="n74-10"><use href="#b" x="468"/></g></g>
<g id="r75" transform="translate(0,3848)"><g id="n75-1"><use href="#a"/></g><g id="n75-2"><use href="#a" x="52"/></g><g id="n75-3"><use href="#a" x="104"/></g><g id="n75-4"><use href="#a" x="156"/></g><g id="n75-5"><use href="#a" x="208"/></g><g id="n75-6"><use href="#a" x="260"/></g><g id="n75-7"><use href="#a" x="312"/></g><g id="n75-8"><use href="#a" x="364"/></g><g id="n75-9"><use href="#a" x="416"/></g><g id="n75-10"><use href="#a" x="468"/></g></g>
<g id="r76" transform="translate(0,3900)"><g id="n76-1"><use href="#b"/></g><g id="n76-2"><use href="#b" x="52"/></g><g id="n76-3"><use href="#b" x="104"/></g><g id="n76-4"><use href="#b" x="156"/></g><g id="n76-5"><use href="#b" x="208"/></g><g id="n76-6"><use href="#b" x="260"/></g><g id="n76-7"><use href="#b" x="312"/></g><g id="n76-8"><use href="#b" x="364"/></g><g id="n76-9"><use href="#b" x="416"/></g><g id="n76-10"><use href="#b" x="468"/></g></g>
<g id="r77" transform="translate(0,3952)"><g id="n77-1"><use href="#a"/></g><g id="n77-2"><use href="#a" x="52"/></g><g id="n77-3"><use href="#a" x="104"/></g><g id="n77-4"><use href="#a" x="156"/></g><g id="n77-5"><use href="#a" x="208"/></g><g id="n77-6"><use href="#a" x="260"/></g><g id="n77-7"><use href="#a" x="312"/></g><g id="n77-8"><use href="#a" x="364"/></g><g id="n77-9"><use href="#a" x="416"/></g><g id="n77-10"><use href="#a" x="468"/></g></g>
<g id="r78" transform="translate(0,4004)"><g id="n78-1"><use href="#b"/></g><g id="n78-2"><use href="#b" x="52"/></g><g id="n78-3"><use href="#b" x="104"/></g><g id="n78-4"><use href="#b" x="156"/></g><g id="n78-5"><use href="#b" x="208"/></g><g id="n78-6"><use href="#b" x="260"/></g><g id="n78-7"><use href="#b" x="312"/></g><g id="n78-8"><use href="#b" x="364"/></g><g id="n78-9"><use href="#b" x="416"/></g><g id="n78-10"><use href="#b" x="468"/></g></g>
<g id="r79" transform="translate(0,4056)"><g id="n79-1"><use href="#a"/></g><g id="n79-2"><use href="#a" x="52"/></g><g id="n79-3"><use href="#a" x="104"/></g><g id="n79-4"><use href="#a" x="156"/></g><g id="n79-5"><use href="#a" x="208"/></g><g id="n79-6"><use href="#a" x="260"/></g><g id="n79-7"><use href="#a" x="312"/></g><g id="n79-8"><use href="#a" x="364"/></g><g id="n79-9"><use href="#a" x="416"/></g><g id="n79-10"><use href="#a" x="468"/></g></g>
<g id="r80" transform="translate(0,4108)"><g id="n80-1"><use href="#b"/></g><g id="n80-2"><use href="#b" x="52"/></g><g id="n80-3"><use href="#b" x="104"/></g><g id="n80-4"><use href="#b" x="156"/></g><g id="n80-5"><use href="#b" x="208"/></g><g id="n80-6"><use href="#b" x="260"/></g><g id="n80-7"><use href="#b" x="312"/></g><g id="n80-8"><use href="#b" x="364"/></g><g id="n80-9"><use href="#b" x="416"/></g><g id="n80-10"><use href="#b" x="468"/></g></g>
<g id="r81" transform="translate(0,4160)"><g id="n81-1"><use href="#a"/></g><g id="n81-2"><use href="#a" x="52"/></g><g id="n81-3"><use href="#a" x="104"/></g><g id="n81-4"><use href="#a" x="156"/></g><g id="n81-5"><use href="#a" x="208"/></g><g id="n81-6"><use href="#a" x="260"/></g><g id="n81-7"><use href="#a" x="312"/></g><g id="n81-8"><use href="#a" x="364"/></g><g id="n81-9"><use href="#a" x="416"/></g><g id="n81-10"><use href="#a" x="468"/></g></g>
</g>
</g>
<text x="318" y="2173.5" font-family="'Liberation Sans Narrow','Liberation Sans',Arial,sans-serif" font-weight="bold" font-size="16" fill="#4a4a4a" stroke="#fff" stroke-width="1.2" paint-order="stroke" text-anchor="middle" textLength="154" lengthAdjust="spacingAndGlyphs">BRACELETBOOK.COM</text>
</svg>
